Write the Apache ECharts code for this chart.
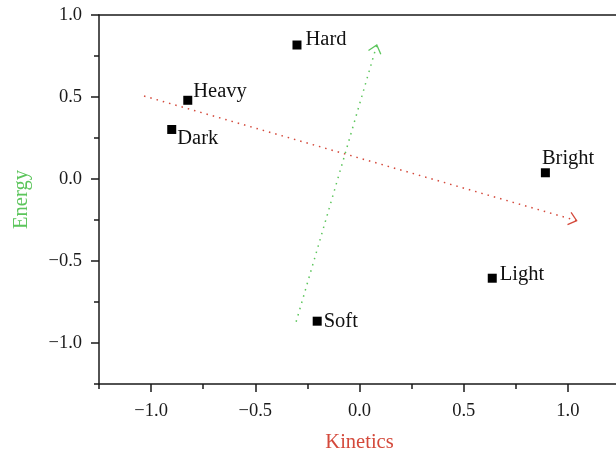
<!DOCTYPE html>
<html>
<head>
<meta charset="utf-8">
<script src="https://cdn.jsdelivr.net/npm/echarts@6/dist/echarts.min.js"></script>
<style>
html,body{margin:0;padding:0;background:#fff;}
#chart{width:616px;height:451px;}
</style>
</head>
<body>
<div id="chart"></div>
<script>
// ---- data ----
const termNames = ['Hard', 'Heavy', 'Dark', 'Bright', 'Light', 'Soft'];
const kinetics = [-0.30, -0.824, -0.901, 0.892, 0.637, -0.203];
const energy = [0.817, 0.48, 0.302, 0.038, -0.605, -0.867];

const arrowNames = ['Kinetics', 'Energy'];
const arrowStartX = [-1.034, -0.304];
const arrowStartY = [0.506, -0.870];
const arrowEndX = [1.042, 0.083];
const arrowEndY = [-0.254, 0.817];

const xMajorTicks = [-1.0, -0.5, 0.0, 0.5, 1.0];
const xMinorTicks = [-1.25, -0.75, -0.25, 0.25, 0.75, 1.25];
const yMajorTicks = [-1.0, -0.5, 0.0, 0.5, 1.0];
const yMinorTicks = [-1.25, -0.75, -0.25, 0.25, 0.75];

// ---- styling ----
const RED = '#d4493b';
const GREEN = '#5cc55c';
const FONT = '"Liberation Serif", "DejaVu Serif", serif';
const labelOffsets = {
  Hard: [4, -5], Heavy: [1, -8.5], Dark: [1, 9],
  Bright: [-8, -14], Light: [3, -4], Soft: [2, 0]
};
const arrowColors = [RED, GREEN];

const fmt = v => (v < 0 ? '\u2212' : '') + Math.abs(v).toFixed(1);

const axisLineStyle = { color: '#1a1a1a', width: 1.5 };

const chart = echarts.init(document.getElementById('chart'), null, { renderer: 'canvas' });

const scatterData = termNames.map((n, i) => ({
  name: n,
  value: [kinetics[i], energy[i]],
  label: { offset: labelOffsets[n] }
}));

const arrowData = arrowNames.map((n, i) => [arrowStartX[i], arrowStartY[i], arrowEndX[i], arrowEndY[i], i]);

chart.setOption({
  animation: false,
  grid: { left: 99, top: 15, width: 521, height: 369, outerBoundsMode: 'none', containLabel: false },
  xAxis: [
    {
      type: 'value', position: 'bottom', min: -1.25, max: 1.25,
      name: 'Kinetics', nameLocation: 'middle', nameGap: 48,
      nameTextStyle: { color: RED, fontFamily: FONT, fontSize: 20.5 },
      axisLine: { show: true, onZero: false, lineStyle: axisLineStyle },
      axisTick: { show: true, customValues: xMajorTicks, length: 8, lineStyle: axisLineStyle },
      axisLabel: { customValues: xMajorTicks, formatter: fmt, margin: 18, color: '#1a1a1a', fontFamily: FONT, fontSize: 18.5 },
      splitLine: { show: false }
    },
    {
      type: 'value', position: 'bottom', min: -1.25, max: 1.25,
      axisLine: { show: false, onZero: false },
      axisTick: { show: true, customValues: xMinorTicks, length: 5, lineStyle: axisLineStyle },
      axisLabel: { show: false },
      splitLine: { show: false }
    },
    {
      type: 'value', position: 'top', min: -1.25, max: 1.25,
      axisLine: { show: true, onZero: false, lineStyle: axisLineStyle },
      axisTick: { show: false },
      axisLabel: { show: false },
      splitLine: { show: false }
    }
  ],
  yAxis: [
    {
      type: 'value', position: 'left', min: -1.25, max: 1.0,
      name: 'Energy', nameLocation: 'middle', nameGap: 67, nameRotate: 90,
      nameTextStyle: { color: GREEN, fontFamily: FONT, fontSize: 20.5 },
      axisLine: { show: true, onZero: false, lineStyle: axisLineStyle },
      axisTick: { show: true, customValues: yMajorTicks, length: 8, lineStyle: axisLineStyle },
      axisLabel: { customValues: yMajorTicks, formatter: fmt, margin: 17, color: '#1a1a1a', fontFamily: FONT, fontSize: 18.5 },
      splitLine: { show: false }
    },
    {
      type: 'value', position: 'left', min: -1.25, max: 1.0,
      axisLine: { show: false, onZero: false },
      axisTick: { show: true, customValues: yMinorTicks, length: 5, lineStyle: axisLineStyle },
      axisLabel: { show: false },
      splitLine: { show: false }
    }
  ],
  series: [
    {
      type: 'custom',
      xAxisIndex: 0, yAxisIndex: 0,
      data: arrowData,
      renderItem: function (params, api) {
        const p0 = api.coord([api.value(0), api.value(1)]);
        const p1 = api.coord([api.value(2), api.value(3)]);
        const color = arrowColors[api.value(4)];
        const dx = p1[0] - p0[0], dy = p1[1] - p0[1];
        const len = Math.sqrt(dx * dx + dy * dy);
        const ux = dx / len, uy = dy / len;
        const hl = 10, ang = 40 * Math.PI / 180;
        const rot = (a) => [-(ux * Math.cos(a) - uy * Math.sin(a)), -(ux * Math.sin(a) + uy * Math.cos(a))];
        const a1 = rot(ang), a2 = rot(-ang);
        return {
          type: 'group',
          children: [
            {
              type: 'line',
              shape: { x1: p0[0], y1: p0[1], x2: p1[0], y2: p1[1] },
              style: { stroke: color, lineWidth: 1.5, lineDash: [1.5, 5] }
            },
            {
              type: 'polyline',
              shape: { points: [[p1[0] + a1[0] * hl, p1[1] + a1[1] * hl], p1, [p1[0] + a2[0] * hl, p1[1] + a2[1] * hl]] },
              style: { stroke: color, lineWidth: 1.3, fill: null }
            }
          ]
        };
      },
      silent: true,
      clip: false,
      z: 1
    },
    {
      type: 'scatter',
      xAxisIndex: 0, yAxisIndex: 0,
      symbol: 'rect',
      symbolSize: 9,
      itemStyle: { color: '#000', opacity: 1 },
      data: scatterData,
      label: {
        show: true,
        position: 'right',
        distance: 0,
        formatter: '{b}',
        color: '#111',
        fontFamily: FONT,
        fontSize: 20.5
      },
      z: 3
    }
  ]
});
</script>
</body>
</html>
